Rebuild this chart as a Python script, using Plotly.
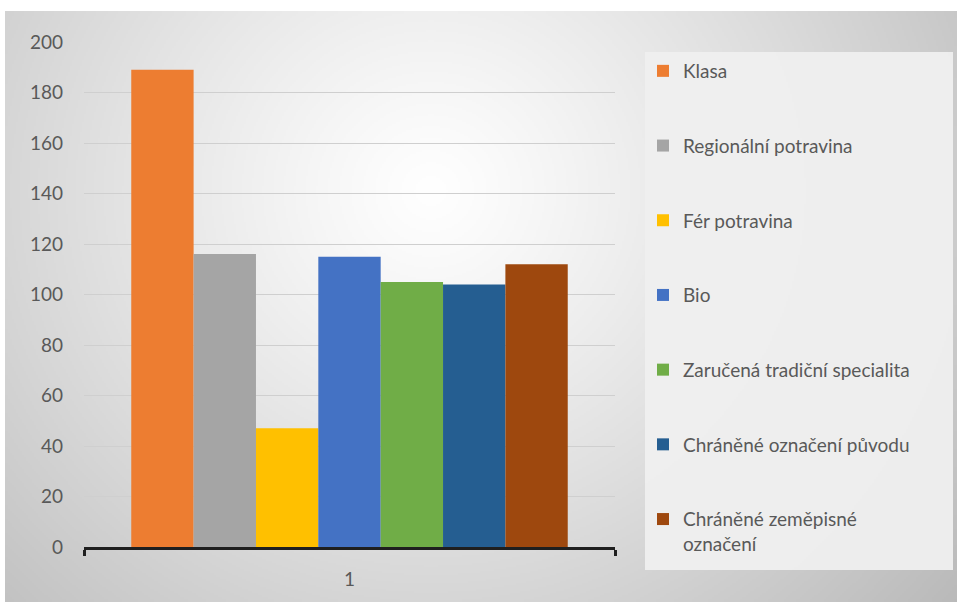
import base64, struct, zlib
import numpy as np
import plotly.graph_objects as go

categories = ["1"]
series_names = [
    "Klasa",
    "Regionální potravina",
    "Fér potravina",
    "Bio",
    "Zaručená tradiční specialita",
    "Chráněné označení původu",
    "Chráněné zeměpisné<br>označení",
]
series_values = [189, 116, 47, 115, 105, 104, 112]
series_colors = ["#ED7D31", "#A5A5A5", "#FFC000", "#4472C4", "#70AD47", "#255E91", "#9E480E"]
y_ticks = [0, 20, 40, 60, 80, 100, 120, 140, 160, 180, 200]

W, H = 957, 602
PL, PR, PT, PB = 84, 615, 42, 547  # plot area in px


def px_x(p):
    return (p - PL) / (PR - PL)


def px_y(p):
    return (PB - p) / (PB - PT)


def png_uri(arr):
    h, w, _ = arr.shape
    raw = b"".join(b"\x00" + arr[i].tobytes() for i in range(h))

    def chunk(t, d):
        c = struct.pack(">I", len(d)) + t + d
        return c + struct.pack(">I", zlib.crc32(t + d) & 0xFFFFFFFF)

    png = b"\x89PNG\r\n\x1a\n" + chunk(b"IHDR", struct.pack(">IIBBBBB", w, h, 8, 2, 0, 0, 0))
    png += chunk(b"IDAT", zlib.compress(raw, 9)) + chunk(b"IEND", b"")
    return "data:image/png;base64," + base64.b64encode(png).decode()


# radial gradient background (frame from x=5, y=11 to the edges)
gx0, gy0 = 5, 11
gw, gh = W - gx0, H - gy0
sc = 2
xs = (np.arange(gw // sc) * sc + gx0).astype(float)
ys = (np.arange(gh // sc) * sc + gy0).astype(float)
XX, YY = np.meshgrid(xs, ys)
d = np.sqrt((XX - 430) ** 2 + ((YY - 190) * 1.05) ** 2)
val = 255 - 67 * (d / 660) ** 1.15
val = np.clip(val, 182, 255).astype(np.uint8)
img = np.stack([val, val, val], axis=-1)
bg_uri = png_uri(img)

fig = go.Figure()
for name, v, c in zip(series_names, series_values, series_colors):
    fig.add_trace(go.Bar(
        x=categories, y=[v], name=name, marker=dict(color=c, line=dict(width=0)),
        legendgroup=name,
    ))

fig.add_layout_image(dict(
    source=bg_uri, xref="paper", yref="paper",
    x=px_x(gx0), y=px_y(gy0), sizex=gw / (PR - PL), sizey=gh / (PB - PT),
    xanchor="left", yanchor="top", sizing="stretch", layer="below",
))

# legend background box
fig.add_shape(type="rect", xref="paper", yref="paper",
              x0=px_x(645), x1=px_x(953), y0=px_y(570), y1=px_y(52),
              fillcolor="rgba(239,239,239,0.95)", line=dict(width=0), layer="below")

font_family = "Lato, 'Open Sans', sans-serif"
text_color = "#595959"

fig.update_layout(
    width=W, height=H,
    margin=dict(l=PL, r=W - PR, t=PT, b=H - PB, pad=0),
    paper_bgcolor="white", plot_bgcolor="rgba(0,0,0,0)",
    barmode="group", bargap=0.178, bargroupgap=0,
    font=dict(family=font_family, size=19, color=text_color),
    showlegend=True,
    legend=dict(
        x=px_x(643), y=px_y(52), xanchor="left", yanchor="top",
        bgcolor="rgba(0,0,0,0)", borderwidth=0,
        font=dict(family=font_family, size=19, color=text_color),
        traceorder="grouped", tracegroupgap=47, valign="top",
        itemclick=False, itemdoubleclick=False, maxheight=590,
    ),
    xaxis=dict(
        type="category", showgrid=False, showline=True, linecolor="#1f1f1f", linewidth=2.5,
        ticks="outside", tickson="boundaries", ticklen=6, tickwidth=2.5, tickcolor="#1f1f1f",
        tickfont=dict(size=19, color=text_color), ticklabelstandoff=13,
        range=[-0.5, 0.5],
    ),
    yaxis=dict(
        range=[0, 200], tickvals=y_ticks, showgrid=True, gridcolor="#cfcfcf", gridwidth=1,
        showline=False, zeroline=False, ticks="",
        tickfont=dict(size=19, color=text_color), ticklabelstandoff=20,
    ),
)

fig.write_html("out.html")
